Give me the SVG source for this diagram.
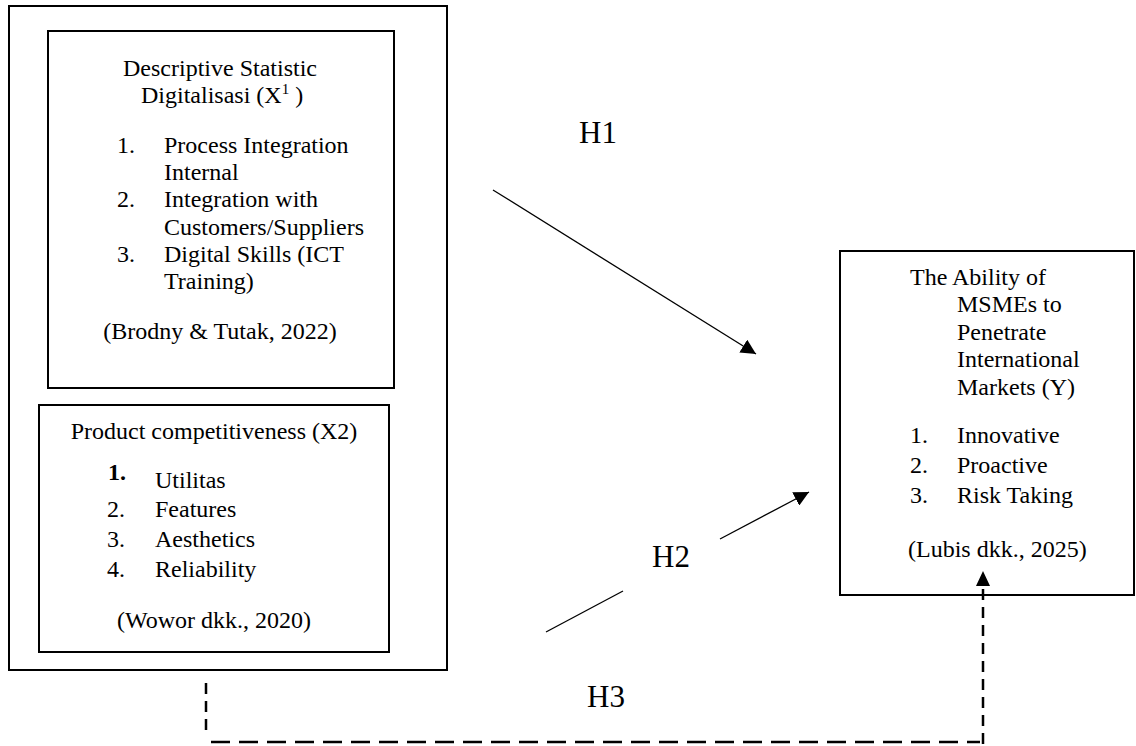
<svg xmlns="http://www.w3.org/2000/svg" width="1136" height="746" viewBox="0 0 1136 746">
<style>
.box{fill:none;stroke:#000;stroke-width:2}
.t{font-family:"Liberation Serif","Times New Roman",serif;font-size:24px;fill:#000}
.h{font-family:"Liberation Serif","Times New Roman",serif;font-size:31px;fill:#000}
.c{text-anchor:middle}
.ln{stroke:#000;stroke-width:1.3;fill:none}
.dv{stroke:#000;stroke-width:2.5;fill:none;stroke-dasharray:11 7}
.dh{stroke:#000;stroke-width:2.5;fill:none;stroke-dasharray:19 9}
</style>
<defs>
<marker id="ah" viewBox="0 0 10 10" refX="10" refY="5" markerWidth="15" markerHeight="15" markerUnits="userSpaceOnUse" orient="auto">
<path d="M0,0 L10,5 L0,10 z" fill="#000"/>
</marker>
</defs>
<rect width="1136" height="746" fill="#fff"/>
<g id="outer">
<rect class="box" x="9" y="6" width="438" height="664"/>
</g>
<g id="x1">
<rect class="box" x="48" y="31" width="346" height="357"/>
<text class="t c" x="220" y="76">Descriptive Statistic</text>
<text class="t" x="141" y="103">Digitalisasi (X<tspan font-size="15" dy="-9">1</tspan><tspan dy="9"> )</tspan></text>
<text class="t" x="117" y="153">1.</text>
<text class="t" x="164" y="153">Process Integration</text>
<text class="t" x="164" y="180">Internal</text>
<text class="t" x="117" y="207">2.</text>
<text class="t" x="164" y="207">Integration with</text>
<text class="t" x="164" y="235">Customers/Suppliers</text>
<text class="t" x="117" y="262">3.</text>
<text class="t" x="164" y="262">Digital Skills (ICT</text>
<text class="t" x="164" y="289">Training)</text>
<text class="t c" x="220" y="339">(Brodny &amp; Tutak, 2022)</text>
</g>
<g id="x2">
<rect class="box" x="39" y="405" width="350" height="247"/>
<text class="t c" x="214" y="439">Product competitiveness (X2)</text>
<text class="t" x="108" y="480" font-size="14" font-weight="bold">1.</text>
<text class="t" x="155" y="488">Utilitas</text>
<text class="t" x="107" y="517">2.</text>
<text class="t" x="155" y="517">Features</text>
<text class="t" x="107" y="547">3.</text>
<text class="t" x="155" y="547">Aesthetics</text>
<text class="t" x="107" y="577">4.</text>
<text class="t" x="155" y="577">Reliability</text>
<text class="t c" x="214" y="628">(Wowor dkk., 2020)</text>
</g>
<g id="y">
<rect class="box" x="840" y="251" width="294" height="344"/>
<text class="t" x="910" y="285">The Ability of</text>
<text class="t" x="957" y="312">MSMEs to</text>
<text class="t" x="957" y="340">Penetrate</text>
<text class="t" x="957" y="367">International</text>
<text class="t" x="957" y="395">Markets (Y)</text>
<text class="t" x="910" y="443">1.</text>
<text class="t" x="957" y="443">Innovative</text>
<text class="t" x="910" y="473">2.</text>
<text class="t" x="957" y="473">Proactive</text>
<text class="t" x="910" y="503">3.</text>
<text class="t" x="957" y="503">Risk Taking</text>
<text class="t" x="908" y="557">(Lubis dkk., 2025)</text>
</g>
<g id="connectors">
<line class="ln" x1="493" y1="190" x2="756" y2="354" marker-end="url(#ah)"/>
<line class="ln" x1="546" y1="632" x2="623" y2="591"/>
<line class="ln" x1="720" y1="539" x2="809" y2="492" marker-end="url(#ah)"/>
<line class="dv" x1="206" y1="683" x2="206" y2="732"/>
<line class="dh" x1="211" y1="742" x2="980" y2="742"/>
<line class="dv" x1="983" y1="744" x2="983" y2="582"/>
<path d="M976,586 L983,571 L990,586 z" fill="#000"/>
</g>
<g id="labels">
<text class="h" x="579" y="143">H1</text>
<text class="h" x="652" y="567">H2</text>
<text class="h" x="587" y="707">H3</text>
</g>
</svg>
